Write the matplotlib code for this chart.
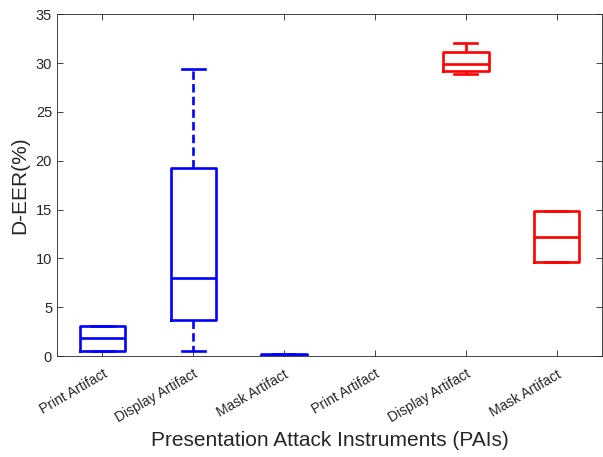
import numpy as np
import matplotlib.pyplot as plt

plt.rcParams['font.family'] = ['Liberation Sans', 'DejaVu Sans']

# D-EER boxplots per PAI (two groups: blue then red)
categories = ['Print Artifact', 'Display Artifact', 'Mask Artifact',
              'Print Artifact', 'Display Artifact', 'Mask Artifact']
whislo = [0.5, 0.56, 0.0, None, 28.9, 9.65]
q1 = [0.5, 3.7, 0.0, None, 29.2, 9.65]
med = [1.8, 8.0, 0.1, None, 29.9, 12.2]
q3 = [3.1, 19.2, 0.2, None, 31.1, 14.8]
whishi = [3.1, 29.4, 0.2, None, 32.0, 14.8]
colors = ['#0000ff', '#0000ff', '#0000ff', '#ff0000', '#ff0000', '#ff0000']

txt = '#262626'

fig = plt.figure(figsize=(6.03, 4.57), dpi=100)
ax = fig.add_axes([0.0945, 0.221, 0.904, 0.748])

for i in range(len(categories)):
    if med[i] is None:
        continue
    st = [{'med': med[i], 'q1': q1[i], 'q3': q3[i],
           'whislo': whislo[i], 'whishi': whishi[i], 'fliers': []}]
    c = colors[i]
    ax.bxp(st, positions=[i + 1], widths=0.5, showfliers=False,
           boxprops=dict(color=c, lw=1.9),
           medianprops=dict(color=c, lw=1.9),
           whiskerprops=dict(color=c, lw=1.9, linestyle=(0, (3.2, 1.6))),
           capprops=dict(color=c, lw=1.9),
           capwidths=0.25, manage_ticks=False)

ax.set_xlim(0.5, 6.5)
ax.set_ylim(0, 35)
ax.set_xticks(np.arange(1, 7))
ax.set_xticklabels(categories, rotation=30, ha='right', rotation_mode='anchor',
                   fontsize=10, color=txt)
ax.set_yticks(np.arange(0, 36, 5))
ax.tick_params(axis='y', labelsize=10.5, labelcolor=txt)
ax.tick_params(axis='x', pad=8)
ax.tick_params(direction='in', top=True, right=True, length=4, color=txt, width=0.6)
for s in ax.spines.values():
    s.set_color(txt)
    s.set_linewidth(0.6)

ax.set_ylabel('D-EER(%)', fontsize=15, color=txt, labelpad=5)
ax.set_xlabel('Presentation Attack Instruments (PAIs)', fontsize=15, color=txt,
              labelpad=4)

fig.savefig('out.png', dpi=100)
